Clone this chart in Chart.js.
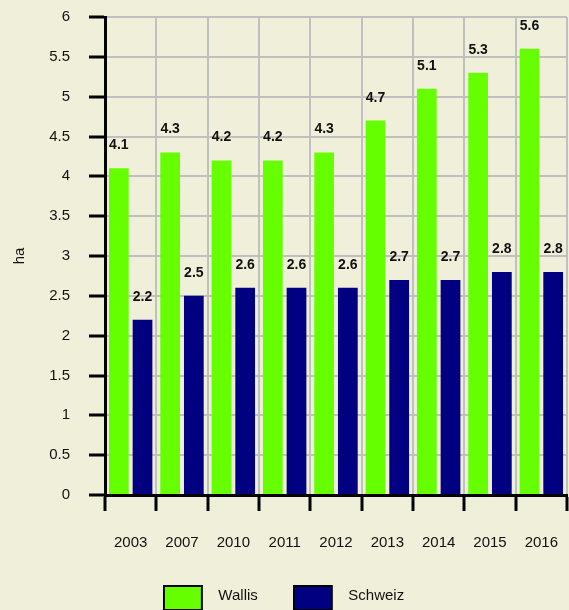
<!DOCTYPE html>
<html>
<head>
<meta charset="utf-8">
<script src="https://cdn.jsdelivr.net/npm/chart.js@4.4.1/dist/chart.umd.min.js"></script>
<style>
  html, body { margin: 0; padding: 0; background: #F0EFDA; }
  #wrap { width: 569px; height: 610px; }
</style>
</head>
<body>
<div id="wrap"><canvas id="c" width="569" height="610"></canvas></div>
<script>
const categories = ['2003', '2007', '2010', '2011', '2012', '2013', '2014', '2015', '2016'];
const wallis = [4.1, 4.3, 4.2, 4.2, 4.3, 4.7, 5.1, 5.3, 5.6];
const schweiz = [2.2, 2.5, 2.6, 2.6, 2.6, 2.7, 2.7, 2.8, 2.8];
const seriesNames = ['Wallis', 'Schweiz'];
const seriesColors = ['#66FF00', '#000080'];
const yAxisTitle = 'ha';

const FONT = '"Liberation Sans", Arial, sans-serif';

// legend swatch image (box with black border), drawn as a point style
function swatch(color) {
  const c = document.createElement('canvas');
  c.width = 48; c.height = 31;
  const g = c.getContext('2d');
  g.fillStyle = color;
  g.fillRect(0, 5, 40, 26);
  g.strokeStyle = '#000';
  g.lineWidth = 2;
  g.strokeRect(1, 6, 38, 24);
  return c;
}

const valueLabels = {
  id: 'valueLabels',
  afterDatasetsDraw(chart) {
    const ctx = chart.ctx;
    ctx.save();
    ctx.font = 'bold 14px ' + FONT;
    ctx.fillStyle = '#111';
    ctx.textAlign = 'center';
    ctx.textBaseline = 'alphabetic';
    chart.data.datasets.forEach((ds, i) => {
      const meta = chart.getDatasetMeta(i);
      meta.data.forEach((el, j) => {
        ctx.fillText(String(ds.data[j]), el.x, el.y - 19);
      });
    });
    ctx.restore();
  }
};

new Chart(document.getElementById('c'), {
  type: 'bar',
  data: {
    labels: categories,
    datasets: [
      { label: seriesNames[0], data: wallis, backgroundColor: seriesColors[0], borderWidth: 0 },
      { label: seriesNames[1], data: schweiz, backgroundColor: seriesColors[1], borderWidth: 0 }
    ]
  },
  options: {
    responsive: false,
    animation: false,
    devicePixelRatio: 1,
    categoryPercentage: 0.923,
    barPercentage: 0.833,
    layout: { padding: { top: 17, right: 2, left: 0, bottom: -3 } },
    plugins: {
      tooltip: { enabled: false },
      legend: {
        position: 'bottom',
        labels: {
          usePointStyle: true,
          pointStyleWidth: 48,
          boxHeight: 15,
          padding: 35,
          color: '#111',
          font: { family: FONT, size: 15 },
          generateLabels(chart) {
            return chart.data.datasets.map((ds, i) => ({
              text: ds.label,
              fillStyle: ds.backgroundColor,
              strokeStyle: '#000',
              lineWidth: 0,
              pointStyle: swatch(ds.backgroundColor),
              hidden: false,
              datasetIndex: i,
              fontColor: '#111'
            }));
          }
        }
      }
    },
    scales: {
      x: {
        grid: { color: '#C0C0C0', lineWidth: 2, tickColor: '#000', tickWidth: 3, tickLength: 16, offset: true },
        border: { color: '#000', width: 3 },
        ticks: { color: '#111', font: { family: FONT, size: 15 }, padding: 23, maxRotation: 0 },
        afterFit(scale) { scale.height = 58; scale.paddingLeft = 0; scale.paddingRight = 0; }
      },
      y: {
        min: 0, max: 6,
        ticks: { stepSize: 0.5, color: '#111', font: { family: FONT, size: 15 }, padding: 19,
          callback: v => String(v) },
        grid: { color: '#C0C0C0', lineWidth: 2, tickColor: '#000', tickWidth: 3, tickLength: 16 },
        border: { color: '#000', width: 3 },
        title: { display: true, text: yAxisTitle, color: '#111', font: { family: FONT, size: 15 }, padding: { top: 11, bottom: 0 } },
        afterFit(scale) { scale.width = 105; scale.paddingTop = 0; scale.paddingBottom = 0; }
      }
    }
  },
  plugins: [valueLabels]
});
</script>
</body>
</html>
